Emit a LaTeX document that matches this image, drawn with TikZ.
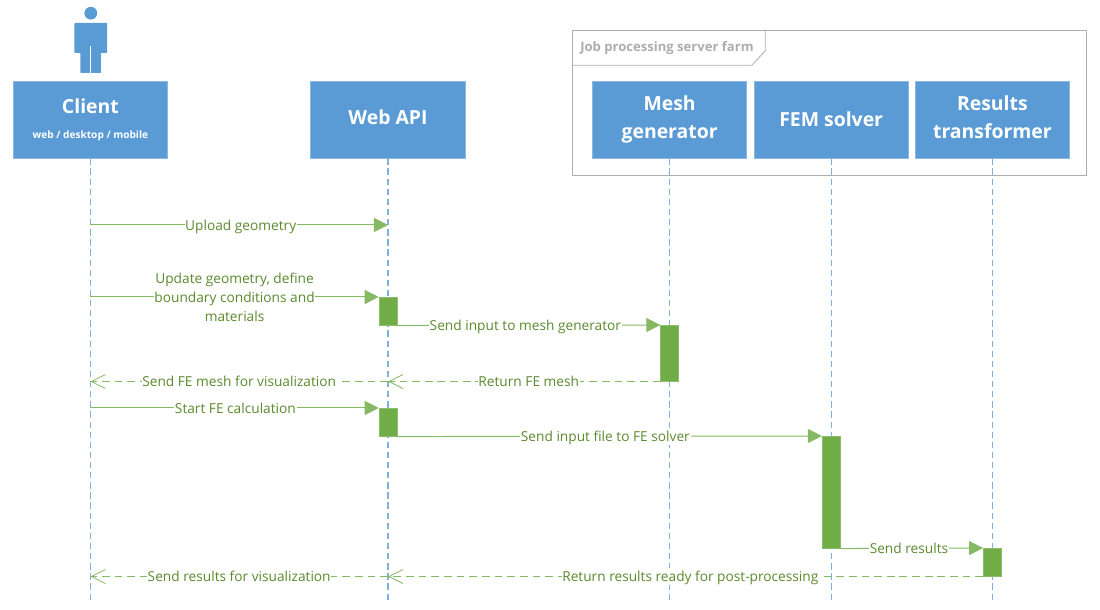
\documentclass[tikz,border=0pt]{standalone}
\usepackage{fontspec}
\setmainfont{Open Sans}
\usetikzlibrary{arrows.meta}
\definecolor{boxblue}{HTML}{5B9BD5}
\definecolor{lineblue}{HTML}{7FB0DE}
\definecolor{msggreen}{HTML}{70AD47}
\definecolor{txtgreen}{HTML}{5B8A2E}
\definecolor{framegray}{HTML}{ADADAD}
\tikzset{
    lifebox/.style={fill=boxblue,draw=boxblue!70!white,line width=0.5pt,text=white,minimum width=3.86cm,minimum height=1.92cm,inner sep=0pt,align=center,font=\fontsize{13.8}{19.6}\selectfont\bfseries},
    lifeline/.style={lineblue,line width=0.8pt,dash pattern=on 4.5pt off 2.7pt},
    actbox/.style={fill=msggreen,draw=msggreen!80!white,line width=0.4pt,minimum width=0.45cm,inner sep=0pt,anchor=north},
    msg/.style={msggreen!85!white,line width=0.7pt,-{Triangle[length=10pt,width=10pt]}},
    msgback/.style={msggreen!85!white,line width=0.7pt,dash pattern=on 5.5pt off 3.5pt,-{Straight Barb[length=10pt,width=10pt,line width=0.6pt]}},
    msgblock/.style={fill=white,inner xsep=0.5pt,inner ysep=1pt,text=txtgreen,align=center,font=\fontsize{9.75}{13.4}\selectfont},
    msglabel/.style={msgblock,inner ysep=0pt,text height=9.8pt,text depth=2.5pt}
}
\begin{document}
\begin{tikzpicture}
    \useasboundingbox (0,0) rectangle (27.5,15.25);

    % server farm frame
    \draw[framegray,line width=0.6pt] (14.3,14.5) rectangle (27.17,10.875);
    \draw[framegray,line width=0.6pt] (14.3,13.62) -- (18.8,13.62) -- (19.13,13.98) -- (19.13,14.5);
    \node[anchor=west,inner sep=0pt,text=framegray,font=\fontsize{9.3}{11}\selectfont\bfseries] (farm) at (14.5,14.06) {Job processing server farm};

    % actor
    \fill[boxblue] (2.27,14.92) circle (0.16);
    \fill[boxblue,rounded corners=0.5pt] (1.86,13.93) -- (1.86,14.675) -- (2.68,14.675) -- (2.68,13.93) -- (2.52,13.93) -- (2.52,13.425) -- (2.01,13.425) -- (2.01,13.93) -- cycle;
    \draw[white,line width=0.5pt] (2.265,14.1) -- (2.265,13.425);

    % lifeline heads
    \node[lifebox] (client) at (2.26,12.26) {Client\\[-2pt]{\fontsize{7.2}{9}\selectfont web / desktop / mobile}};
    \node[lifebox] (api) at (9.7,12.26) {Web API\vphantom{g}};
    \node[lifebox] (mesh) at (16.74,12.26) {Mesh\\generator};
    \node[lifebox] (fem) at (20.78,12.26) {FEM solver};
    \node[lifebox] (results) at (24.81,12.26) {Results\\transformer\vphantom{g}};

    % lifelines
    \foreach \head in {client,api,mesh,fem,results}{
        \coordinate (\head end) at (\head |- 0,0.25);
        \draw[lifeline] (\head.south) -- (\head end);
    }

    % activations
    \node[actbox,minimum height=0.7cm] (actA) at (api |- 0,7.825) {};
    \node[actbox,minimum height=1.4cm] (actB) at (mesh |- 0,7.125) {};
    \node[actbox,minimum height=0.7cm] (actC) at (api |- 0,5.05) {};
    \node[actbox,minimum height=2.8cm] (actD) at (fem |- 0,4.35) {};
    \node[actbox,minimum height=0.7cm] (actE) at (results |- 0,1.55) {};

    % messages
    \coordinate (yUpload) at (0,9.625);
    \draw[msg] (client |- yUpload) -- node[msglabel,pos=0.505]{Upload geometry} (api |- yUpload);
    \draw[msg] (client |- actA.north) -- node[msgblock,pos=0.5]{Update geometry, define\\boundary conditions and\\materials} (actA.north west);
    \draw[msg] (actA.south east) -- node[msglabel,pos=0.487]{Send input to mesh generator} (actB.north west);
    \draw[msgback] (actB.south west) -- node[msglabel,pos=0.483]{Return FE mesh} (api |- actB.south);
    \draw[msgback] (api |- actB.south) -- node[msglabel,pos=0.5]{Send FE mesh for visualization} (client |- actB.south);
    \draw[msg] (client |- actC.north) -- node[msglabel,pos=0.503]{Start FE calculation} (actC.north west);
    \draw[msg] (actC.south east) -- node[msglabel,pos=0.49]{Send input file to FE solver} (actD.north west);
    \draw[msg] (actD.south east) -- node[msglabel,pos=0.48]{Send results} (actE.north west);
    \draw[msgback] (actE.south west) -- node[msglabel,pos=0.492]{Return results ready for post-processing} (api |- actE.south);
    \draw[msgback] (api |- actE.south) -- node[msglabel,pos=0.5]{Send results for visualization} (client |- actE.south);
\end{tikzpicture}
\end{document}
